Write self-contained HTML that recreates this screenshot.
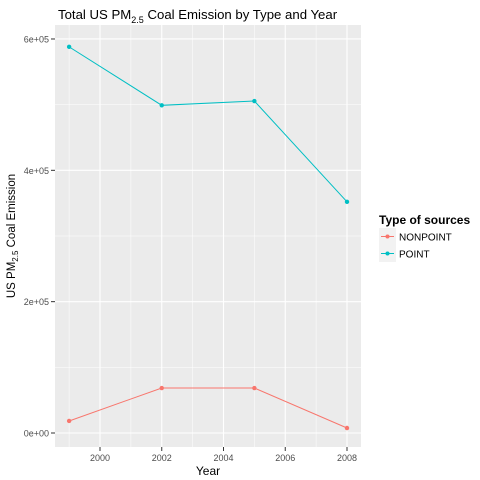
<!DOCTYPE html>
<html><head><meta charset="utf-8"><style>body{margin:0;background:#fff}svg{display:block;font-family:"Liberation Sans",sans-serif}</style></head>
<body>
<svg id="c" width="480" height="480">
<text x="58" y="19" font-size="13.2" fill="#000">Total US PM<tspan font-size="9" dy="4">2.5</tspan><tspan dy="-4"> Coal Emission by Type and Year</tspan></text>
<rect x="55" y="25" width="306" height="422" fill="#ebebeb"/>
<g id="grid"></g><g id="series"></g><g id="axes"></g>
<text x="208" y="475" font-size="12" fill="#000" text-anchor="middle">Year</text>
<text transform="translate(15,236) rotate(-90)" font-size="11.5" text-anchor="middle" fill="#000">US PM<tspan font-size="8" dy="3">2.5</tspan><tspan dy="-3"> Coal Emission</tspan></text>
<g>
<text x="379" y="224" font-size="12" font-weight="bold">Type of sources</text>
<g><rect x="379" y="228" width="17" height="17" fill="#f2f2f2"/><line x1="381" x2="394" y1="236.5" y2="236.5" stroke="#F8766D"/><circle cx="387.5" cy="236.5" r="2" fill="#F8766D"/><text x="399" y="240.5" font-size="10">NONPOINT</text></g>
<g><rect x="379" y="245" width="17" height="17" fill="#f2f2f2"/><line x1="381" x2="394" y1="253.5" y2="253.5" stroke="#00BFC4"/><circle cx="387.5" cy="253.5" r="2" fill="#00BFC4"/><text x="399" y="257.5" font-size="10">POINT</text></g>
</g>
</svg>
<script>
const years=[1999,2002,2005,2008];
const pointVals=[588000,499000,505500,352000];
const nonpointVals=[18300,68500,68500,7600];
const xTicks=[2000,2002,2004,2006,2008];
const yTicks=[0,200000,400000,600000];
const yTickLabels=["0e+00","2e+05","4e+05","6e+05"];
const X=v=>100+(v-2000)*30.875, Y=v=>433-v*65.67e-5;
const NS="http://www.w3.org/2000/svg";
function mk(p,t,a){const e=document.createElementNS(NS,t);for(const k in a)e.setAttribute(k,a[k]);p.appendChild(e);return e;}
const g=document.getElementById('grid'),ax=document.getElementById('axes'),s=document.getElementById('series');
for(const y of [100000,300000,500000]){const l=mk(g,'line',{x1:55,x2:361,y1:Y(y),y2:Y(y),stroke:'#fff','stroke-width':0.5});

}
for(const x of [1999,2001,2003,2005,2007]){const l=mk(g,'line',{x1:X(x),x2:X(x),y1:25,y2:447,stroke:'#fff','stroke-width':0.5});

}
yTicks.forEach((v,i)=>{const l=mk(g,'line',{x1:55,x2:361,y1:Y(v),y2:Y(v),stroke:'#fff','stroke-width':1.1});


mk(ax,'line',{x1:51,x2:55,y1:Y(v),y2:Y(v),stroke:'#333'});
const t=mk(ax,'text',{x:49,y:Y(v)+3.5,'font-size':9,fill:'#4d4d4d','text-anchor':'end'});t.textContent=yTickLabels[i];

});
xTicks.forEach(v=>{const l=mk(g,'line',{x1:X(v),x2:X(v),y1:25,y2:447,stroke:'#fff','stroke-width':1.1});


mk(ax,'line',{x1:X(v),x2:X(v),y1:447,y2:451,stroke:'#333'});
const t=mk(ax,'text',{x:X(v),y:461,'font-size':9,fill:'#4d4d4d','text-anchor':'middle'});t.textContent=v;

});
function draw(vals,col,name){const p=mk(s,'polyline',{points:years.map((y,i)=>X(y)+','+Y(vals[i])).join(' '),fill:'none',stroke:col,'stroke-width':1});


years.forEach((y,i)=>{const c=mk(s,'circle',{cx:X(y),cy:Y(vals[i]),r:2.2,fill:col});

});}
draw(nonpointVals,'#F8766D','nonpoint');
draw(pointVals,'#00BFC4','point');
</script>
</body></html>
